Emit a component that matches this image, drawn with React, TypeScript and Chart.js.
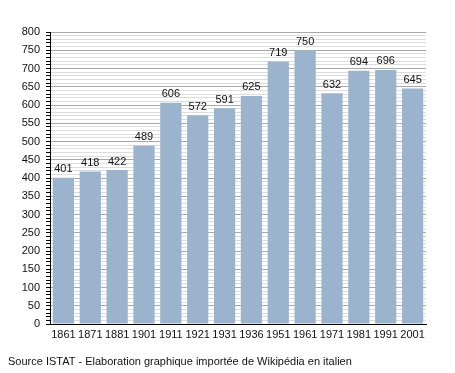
import React, { useEffect, useRef } from "react";
import { Chart, registerables } from "chart.js";

Chart.register(...registerables);

const categories = ["1861", "1871", "1881", "1901", "1911", "1921", "1931", "1936", "1951", "1961", "1971", "1981", "1991", "2001"];
const population = [401, 418, 422, 489, 606, 572, 591, 625, 719, 750, 632, 694, 696, 645];
const yMax = 800;
const sourceText = "Source ISTAT - Elaboration graphique importée de Wikipédia en italien";

const FONT = "'Liberation Sans', Arial, sans-serif";

const valueLabels = {
  id: "valueLabels",
  afterDatasetsDraw(chart: any) {
    const ctx = chart.ctx;
    const meta = chart.getDatasetMeta(0);
    ctx.save();
    ctx.font = `11px ${FONT}`;
    ctx.fillStyle = "#111";
    ctx.textAlign = "center";
    ctx.textBaseline = "bottom";
    meta.data.forEach((bar: any, i: number) => {
      ctx.fillText(String(population[i]), bar.x, bar.y - 3);
    });
    ctx.restore();
  },
};

const sourcePlugin = {
  id: "sourceText",
  afterDraw(chart: any) {
    const ctx = chart.ctx;
    ctx.save();
    ctx.font = `11px ${FONT}`;
    ctx.fillStyle = "#111";
    ctx.textAlign = "left";
    ctx.textBaseline = "middle";
    ctx.fillText(sourceText, 8, 362);
    ctx.restore();
  },
};

export default function App() {
  const ref = useRef<HTMLCanvasElement>(null);
  useEffect(() => {
    const chart = new Chart(ref.current!, {
      type: "bar",
      data: {
        labels: categories,
        datasets: [
          {
            data: population,
            backgroundColor: "#9cb3cd",
            borderWidth: 0,
            barPercentage: 0.79,
            categoryPercentage: 1,
          },
        ],
      },
      options: {
        animation: false,
        responsive: false,
        layout: { padding: { left: 8, right: 29, top: 32, bottom: 25 } },
        plugins: { legend: { display: false }, tooltip: { enabled: false } },
        scales: {
          x: {
            grid: { display: false, drawTicks: false },
            border: { color: "#000", width: 1 },
            ticks: { color: "#111", font: { family: FONT, size: 11 }, padding: 4, maxRotation: 0, autoSkip: false },
            afterFit: (s: any) => { s.height = 24; },
          },
          y: {
            min: 0,
            max: yMax,
            border: { color: "#000", width: 1 },
            grid: {
              color: (c: any) => (c.tick && c.tick.value % 50 === 0 ? "#a8a8a8" : "#dcdcdc"),
              tickColor: "#000",
              tickLength: 4,
              tickWidth: 1,
            },
            ticks: {
              stepSize: 10,
              autoSkip: false,
              color: "#111",
              font: { family: FONT, size: 11 },
              padding: 6,
              callback: (v: any) => (Number(v) % 50 === 0 ? String(v) : ""),
            },
            afterFit: (s: any) => { s.width = 42; },
          },
        },
      },
      plugins: [valueLabels, sourcePlugin],
    });
    return () => chart.destroy();
  }, []);
  return (
    <div style={{ position: "fixed", left: 0, top: 0, background: "#fff" }}>
      <canvas ref={ref} width={455} height={373} style={{ display: "block" }} />
    </div>
  );
}
